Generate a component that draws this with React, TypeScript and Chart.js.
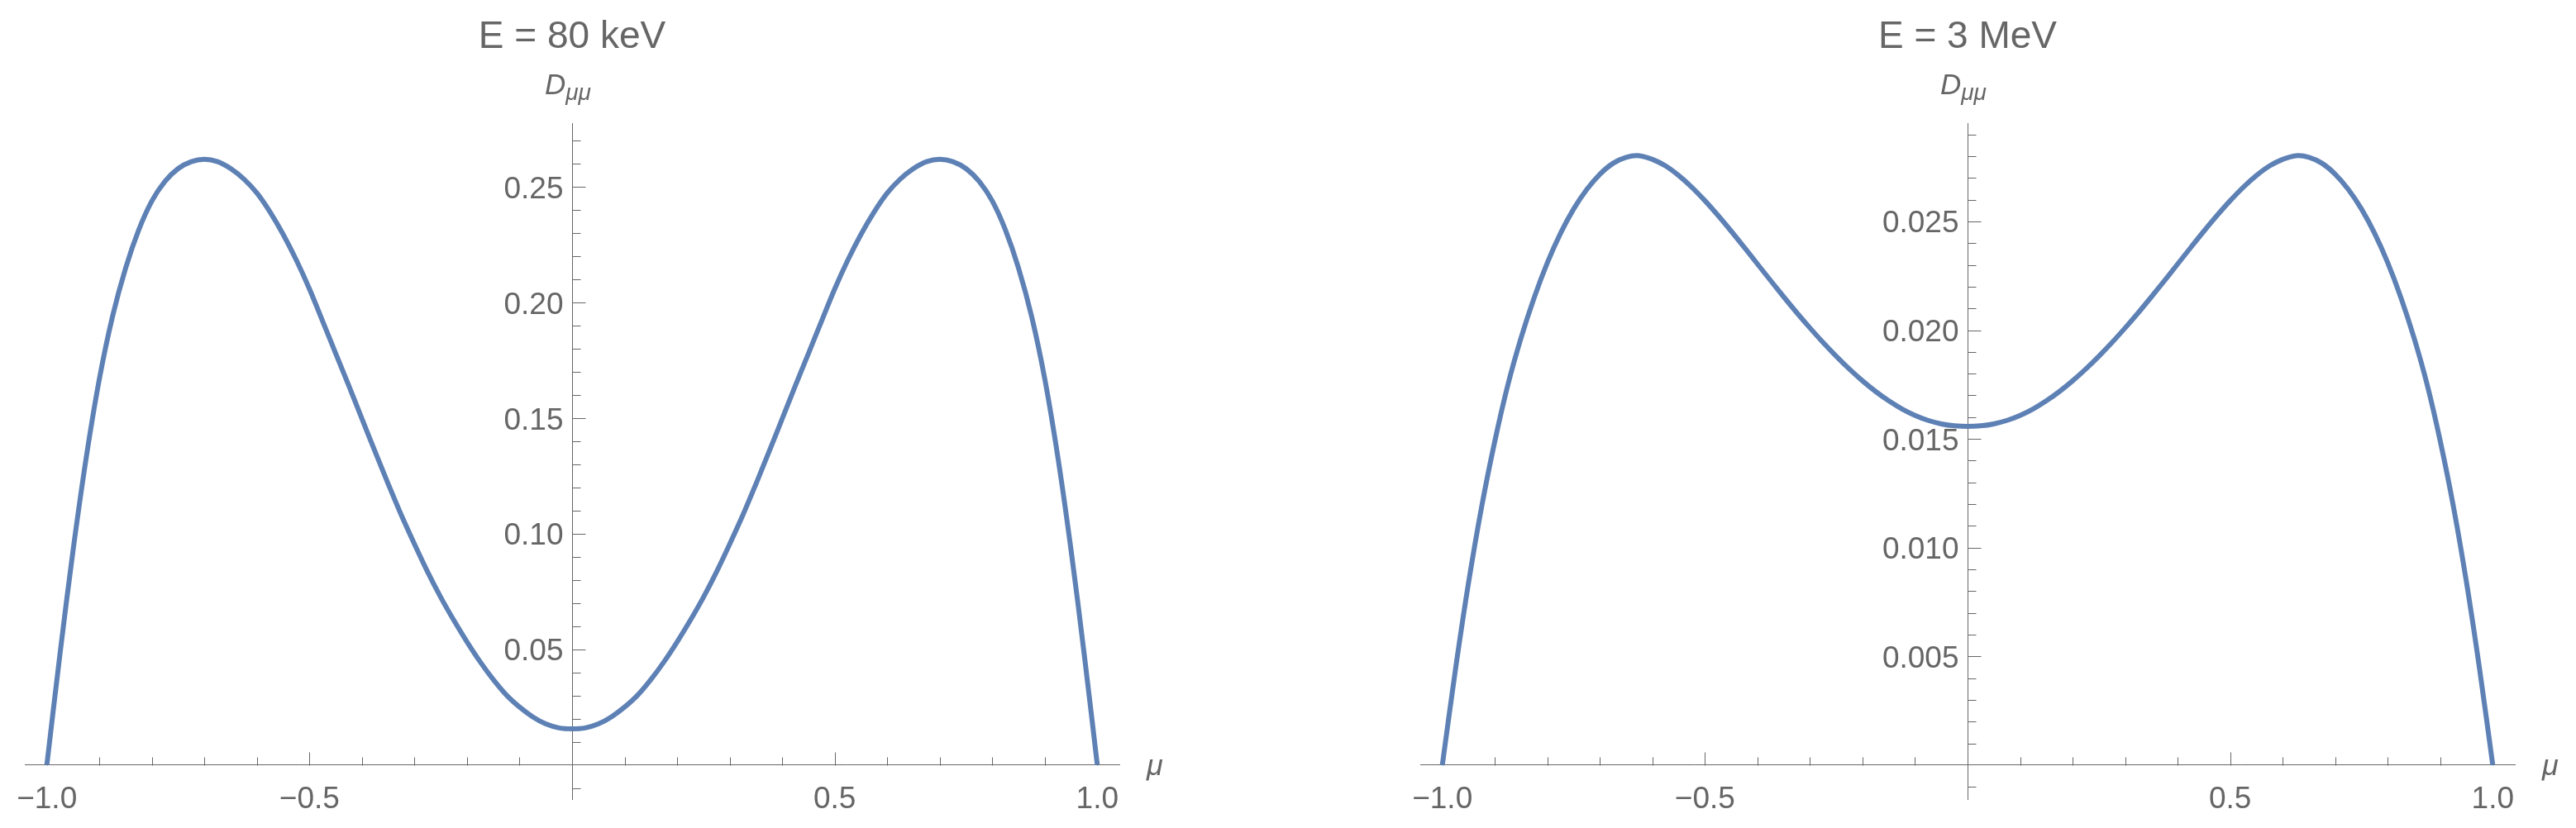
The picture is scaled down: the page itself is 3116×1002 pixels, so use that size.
import { useEffect, useRef } from 'react';
import { Chart, registerables } from 'chart.js';

Chart.register(...registerables);

// pitch-angle cosine samples
const muValues = [
  -1, -0.975, -0.95, -0.925, -0.9, -0.875, -0.85, -0.825, -0.8, -0.775,
  -0.75, -0.725, -0.7, -0.675, -0.65, -0.625, -0.6, -0.575, -0.55, -0.525,
  -0.5, -0.475, -0.45, -0.425, -0.4, -0.375, -0.35, -0.325, -0.3, -0.275,
  -0.25, -0.225, -0.2, -0.175, -0.15, -0.125, -0.1, -0.075, -0.05, -0.025,
  0,
  0.025, 0.05, 0.075, 0.1, 0.125, 0.15, 0.175, 0.2, 0.225, 0.25,
  0.275, 0.3, 0.325, 0.35, 0.375, 0.4, 0.425, 0.45, 0.475, 0.5,
  0.525, 0.55, 0.575, 0.6, 0.625, 0.65, 0.675, 0.7, 0.725, 0.75,
  0.775, 0.8, 0.825, 0.85, 0.875, 0.9, 0.925, 0.95, 0.975, 1,
];

// D_mumu at E = 80 keV
const dmm80keV = [
  0, 0.048, 0.093, 0.133, 0.167, 0.194, 0.215, 0.2315, 0.244, 0.2525,
  0.258, 0.261, 0.262, 0.261, 0.258, 0.2535, 0.2474, 0.2392, 0.2295, 0.2184,
  0.2059, 0.192, 0.178, 0.164, 0.1497, 0.1355, 0.1215, 0.108, 0.0955, 0.0835,
  0.0725, 0.0625, 0.0532, 0.0446, 0.0369, 0.0302, 0.025, 0.0208, 0.0177, 0.016,
  0.0156,
  0.016, 0.0177, 0.0208, 0.025, 0.0302, 0.0369, 0.0446, 0.0532, 0.0625, 0.0725,
  0.0835, 0.0955, 0.108, 0.1215, 0.1355, 0.1497, 0.164, 0.178, 0.192, 0.2059,
  0.2184, 0.2295, 0.2392, 0.2474, 0.2535, 0.258, 0.261, 0.262, 0.261, 0.258,
  0.2525, 0.244, 0.2315, 0.215, 0.194, 0.167, 0.133, 0.093, 0.048, 0,
];

// D_mumu at E = 3 MeV
const dmm3MeV = [
  0, 0.0044, 0.0084, 0.0119, 0.0149, 0.0175, 0.01965, 0.0215, 0.0231, 0.02445,
  0.02557, 0.02647, 0.02717, 0.02767, 0.02795, 0.02802, 0.02785, 0.02755, 0.02711, 0.02657,
  0.02595, 0.02527, 0.02455, 0.0238, 0.02304, 0.02228, 0.02153, 0.0208, 0.0201, 0.01943,
  0.0188, 0.01821, 0.01767, 0.01718, 0.01675, 0.01638, 0.01608, 0.01585, 0.01569, 0.0156,
  0.01557,
  0.0156, 0.01569, 0.01585, 0.01608, 0.01638, 0.01675, 0.01718, 0.01767, 0.01821, 0.0188,
  0.01943, 0.0201, 0.0208, 0.02153, 0.02228, 0.02304, 0.0238, 0.02455, 0.02527, 0.02595,
  0.02657, 0.02711, 0.02755, 0.02785, 0.02802, 0.02795, 0.02767, 0.02717, 0.02647, 0.02557,
  0.02445, 0.0231, 0.0215, 0.01965, 0.0175, 0.0149, 0.0119, 0.0084, 0.0044, 0,
];

const xTicks = [-1, -0.5, 0.5, 1];
const yTicks80keV = [0.05, 0.1, 0.15, 0.2, 0.25];
const yTicks3MeV = [0.005, 0.01, 0.015, 0.02, 0.025];

const LINE = 'rgb(94, 129, 181)';
const GRAY = 'rgb(102, 102, 102)';
const FONT = '"Liberation Sans", Arial, sans-serif';

const fmt = (v: number, digits: number) => v.toFixed(digits).replace('-', '\u2212');

// Mathematica-style axes decoration: inward ticks (major + minor) and tick labels
const axisTicks = {
  id: 'axisTicks',
  beforeDatasetsDraw(chart: any, _args: any, opts: any) {
    const { ctx, scales } = chart;
    const x = scales.x;
    const y = scales.y;
    const x0 = Math.round(x.getPixelForValue(0)) + 0.5;
    const y0 = Math.round(y.getPixelForValue(0)) + 0.5;
    ctx.save();
    ctx.strokeStyle = GRAY;
    ctx.lineWidth = 1;
    ctx.beginPath();
    for (let i = -10; i <= 10; i++) {
      if (i === 0) continue;
      const len = i % 5 === 0 ? 16 : 10;
      const px = Math.round(x.getPixelForValue(i / 10)) + 0.5;
      ctx.moveTo(px, y0);
      ctx.lineTo(px, y0 - len);
    }
    const step = opts.minorStep;
    for (let i = Math.ceil(y.min / step); i * step <= y.max; i++) {
      if (i === 0) continue;
      const len = i % 5 === 0 ? 16 : 10;
      const py = Math.round(y.getPixelForValue(i * step)) + 0.5;
      ctx.moveTo(x0, py);
      ctx.lineTo(x0 + len, py);
    }
    ctx.stroke();

    ctx.fillStyle = GRAY;
    ctx.font = `37px ${FONT}`;
    ctx.textBaseline = 'alphabetic';
    ctx.textAlign = 'center';
    xTicks.forEach((v) => {
      ctx.fillText(fmt(v, 1), x.getPixelForValue(v), y0 + 51);
    });
    ctx.textAlign = 'right';
    opts.yTicks.forEach((v: number) => {
      ctx.fillText(fmt(v, opts.digits), x0 - 11, y.getPixelForValue(v) + 13.5);
    });
    ctx.restore();
  },
};

// axis labels D_mumu (top of y axis) and mu (end of x axis)
const axisLabels = {
  id: 'axisLabels',
  afterDraw(chart: any) {
    const { ctx, scales, chartArea } = chart;
    const x0 = scales.x.getPixelForValue(0);
    const y0 = scales.y.getPixelForValue(0);
    ctx.save();
    ctx.fillStyle = GRAY;
    ctx.textAlign = 'left';
    ctx.textBaseline = 'alphabetic';
    ctx.font = `italic 35px ${FONT}`;
    ctx.fillText('D', x0 - 33, chartArea.top - 35);
    const dw = ctx.measureText('D').width;
    ctx.font = `italic 28px ${FONT}`;
    ctx.fillText('\u03bc\u03bc', x0 - 33 + dw, chartArea.top - 28);
    ctx.font = `italic 36px ${FONT}`;
    ctx.fillText('\u03bc', chartArea.right + 33, y0 + 12);
    ctx.restore();
  },
};

interface PanelProps {
  title: string;
  values: number[];
  yMin: number;
  yMax: number;
  yTicks: number[];
  minorStep: number;
  digits: number;
  padLeft: number;
  padRight: number;
}

function Panel({ title, values, yMin, yMax, yTicks, minorStep, digits, padLeft, padRight }: PanelProps) {
  const canvasRef = useRef<HTMLCanvasElement>(null);

  useEffect(() => {
    if (!canvasRef.current) return;
    const chart = new Chart(canvasRef.current, {
      type: 'line',
      data: {
        datasets: [
          {
            data: muValues.map((mu, i) => ({ x: mu, y: values[i] })),
            borderColor: LINE,
            borderWidth: 6,
            pointRadius: 0,
            fill: false,
            tension: 0.35,
          },
        ],
      },
      options: {
        animation: false,
        responsive: false,
        devicePixelRatio: 1,
        layout: { padding: { left: padLeft, right: padRight, top: 0, bottom: 35 } },
        plugins: {
          legend: { display: false },
          tooltip: { enabled: false },
          title: {
            display: true,
            text: title,
            fullSize: false,
            color: GRAY,
            font: { family: FONT, size: 46, weight: 'normal' },
            padding: { top: 18, bottom: 76 },
          },
          axisTicks: { minorStep, yTicks, digits },
        } as any,
        scales: {
          x: {
            type: 'linear',
            min: -1.042,
            max: 1.042,
            position: { y: 0 } as any,
            grid: { display: false, drawTicks: false },
            border: { display: true, color: GRAY, width: 1 },
            ticks: { display: false },
          },
          y: {
            type: 'linear',
            min: yMin,
            max: yMax,
            position: { x: 0 } as any,
            grid: { display: false, drawTicks: false },
            border: { display: true, color: GRAY, width: 1 },
            ticks: { display: false },
          },
        },
      },
      plugins: [axisTicks, axisLabels],
    });
    return () => chart.destroy();
  }, []);

  return <canvas ref={canvasRef} width={1558} height={1002} style={{ display: 'block', width: 1558, height: 1002 }} />;
}

export default function App() {
  return (
    <div style={{ position: 'fixed', left: 0, top: 0, width: 3116, height: 1002, background: '#fff', display: 'flex' }}>
      <Panel
        title="E = 80 keV"
        values={dmm80keV}
        yMin={-0.0148}
        yMax={0.2776}
        yTicks={yTicks80keV}
        minorStep={0.01}
        digits={2}
        padLeft={30}
        padRight={204}
      />
      <Panel
        title="E = 3 MeV"
        values={dmm3MeV}
        yMin={-0.00156}
        yMax={0.02951}
        yTicks={yTicks3MeV}
        minorStep={0.001}
        digits={3}
        padLeft={160}
        padRight={74}
      />
    </div>
  );
}
